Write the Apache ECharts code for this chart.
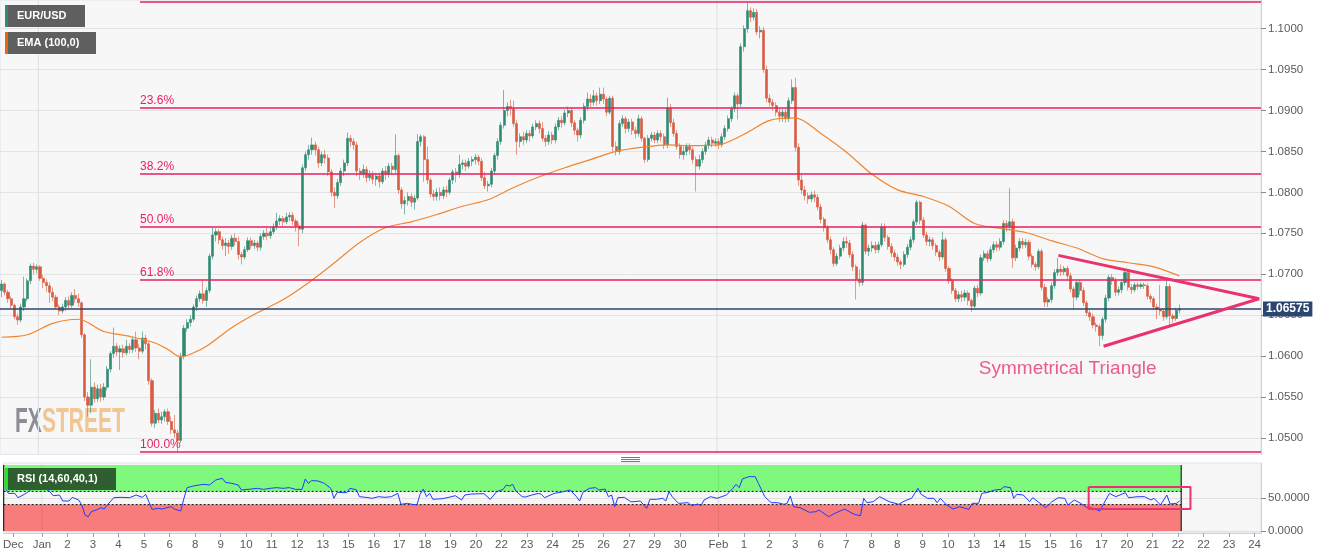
<!DOCTYPE html>
<html><head><meta charset="utf-8">
<script src="https://cdn.jsdelivr.net/npm/echarts@6/dist/echarts.min.js"></script>
<style>html,body{margin:0;padding:0;background:#fff}#c{width:1331px;height:558px}</style>
</head><body><div id="c"></div><script>
// ---- candles [open, close, low, high] ----
const candlesDecJan2 = [
[1.0680,1.0688,1.0672,1.0693],[1.0688,1.0678,1.0674,1.0690],[1.0678,1.0670,1.0665,1.0681],[1.0670,1.0662,1.0658,1.0673],
[1.0662,1.0648,1.0645,1.0664],[1.0648,1.0644,1.0638,1.0652],[1.0644,1.0660,1.0641,1.0664],[1.0660,1.0670,1.0655,1.0697],
[1.0670,1.0692,1.0667,1.0695],[1.0692,1.0710,1.0688,1.0713],[1.0710,1.0706,1.0700,1.0714],[1.0706,1.0709,1.0701,1.0712],
[1.0709,1.0695,1.0692,1.0711],[1.0695,1.0690,1.0683,1.0699],[1.0690,1.0686,1.0678,1.0694],[1.0686,1.0678,1.0665,1.0690],
[1.0678,1.0672,1.0667,1.0684],[1.0672,1.0660,1.0657,1.0675],[1.0660,1.0655,1.0650,1.0663],[1.0655,1.0660,1.0652,1.0664],
[1.0660,1.0668,1.0655,1.0672],[1.0668,1.0662,1.0657,1.0673],[1.0662,1.0674,1.0659,1.0678],[1.0674,1.0670,1.0665,1.0682],
[1.0670,1.0665,1.0660,1.0676],[1.0665,1.0626,1.0622,1.0667],[1.0626,1.0550,1.0545,1.0628],[1.0550,1.0540,1.0526,1.0556]
];
const candlesJan3to6 = [
[1.0540,1.0562,1.0530,1.0596],[1.0562,1.0548,1.0543,1.0568],[1.0548,1.0560,1.0544,1.0565],[1.0560,1.0550,1.0544,1.0566],
[1.0550,1.0562,1.0546,1.0567],[1.0562,1.0584,1.0558,1.0588],[1.0584,1.0603,1.0580,1.0606],[1.0603,1.0612,1.0598,1.0635],
[1.0612,1.0605,1.0600,1.0616],[1.0605,1.0609,1.0583,1.0613],[1.0609,1.0604,1.0598,1.0614],[1.0604,1.0612,1.0601,1.0620],
[1.0612,1.0608,1.0603,1.0616],[1.0608,1.0620,1.0604,1.0624],[1.0620,1.0610,1.0605,1.0630],[1.0610,1.0606,1.0596,1.0615],
[1.0606,1.0622,1.0603,1.0630],[1.0622,1.0615,1.0608,1.0626],[1.0615,1.0570,1.0565,1.0618],[1.0570,1.0518,1.0514,1.0573],
[1.0518,1.0530,1.0512,1.0534],[1.0530,1.0522,1.0518,1.0536],[1.0522,1.0526,1.0517,1.0532],[1.0526,1.0532,1.0520,1.0535],
[1.0532,1.0520,1.0516,1.0536],[1.0520,1.0510,1.0505,1.0526],[1.0510,1.0506,1.0500,1.0528],[1.0506,1.0497,1.0483,1.0510],
[1.0497,1.0600,1.0494,1.0604],[1.0600,1.0634,1.0596,1.0638]
];
const candlesJan6to12 = [
[1.0634,1.0641,1.0630,1.0645],[1.0641,1.0645,1.0636,1.0650],[1.0645,1.0660,1.0642,1.0663],[1.0660,1.0670,1.0655,1.0674],
[1.0670,1.0676,1.0666,1.0680],[1.0676,1.0668,1.0664,1.0693],[1.0668,1.0680,1.0660,1.0684],[1.0680,1.0722,1.0677,1.0725],
[1.0722,1.0748,1.0718,1.0758],[1.0748,1.0752,1.0740,1.0756],[1.0752,1.0742,1.0737,1.0755],[1.0742,1.0735,1.0730,1.0746],
[1.0735,1.0738,1.0722,1.0744],[1.0738,1.0734,1.0725,1.0742],[1.0734,1.0744,1.0730,1.0748],[1.0744,1.0740,1.0735,1.0750],
[1.0740,1.0724,1.0718,1.0746],[1.0724,1.0721,1.0712,1.0727],[1.0721,1.0730,1.0718,1.0734],[1.0730,1.0741,1.0727,1.0745],
[1.0741,1.0735,1.0731,1.0745],[1.0735,1.0738,1.0731,1.0742],[1.0738,1.0733,1.0728,1.0741],[1.0733,1.0746,1.0729,1.0750],
[1.0746,1.0750,1.0742,1.0754],[1.0750,1.0747,1.0742,1.0758],[1.0747,1.0752,1.0743,1.0757],[1.0752,1.0758,1.0749,1.0762],
[1.0758,1.0765,1.0754,1.0775],[1.0765,1.0768,1.0760,1.0772],[1.0768,1.0764,1.0759,1.0771],[1.0764,1.0770,1.0761,1.0775],
[1.0770,1.0772,1.0765,1.0776],[1.0772,1.0765,1.0760,1.0776],[1.0765,1.0759,1.0752,1.0768],[1.0759,1.0755,1.0734,1.0763],
[1.0755,1.0830,1.0750,1.0834]
];
const candlesJan12to18 = [
[1.0830,1.0846,1.0826,1.0850],[1.0846,1.0852,1.0840,1.0858],[1.0852,1.0858,1.0846,1.0867],[1.0858,1.0852,1.0845,1.0862],
[1.0852,1.0836,1.0830,1.0856],[1.0836,1.0846,1.0832,1.0850],[1.0846,1.0842,1.0835,1.0852],[1.0842,1.0825,1.0820,1.0846],
[1.0825,1.0800,1.0795,1.0828],[1.0800,1.0796,1.0781,1.0806],[1.0796,1.0812,1.0792,1.0816],[1.0812,1.0826,1.0808,1.0830],
[1.0826,1.0836,1.0820,1.0840],[1.0836,1.0866,1.0832,1.0873],[1.0866,1.0862,1.0856,1.0870],[1.0862,1.0858,1.0852,1.0866],
[1.0858,1.0826,1.0820,1.0862],[1.0826,1.0822,1.0815,1.0830],[1.0822,1.0828,1.0818,1.0834],[1.0828,1.0818,1.0812,1.0832],
[1.0818,1.0822,1.0814,1.0827],[1.0822,1.0816,1.0810,1.0826],[1.0816,1.0820,1.0808,1.0824],[1.0820,1.0813,1.0806,1.0824],
[1.0813,1.0826,1.0810,1.0830],[1.0826,1.0822,1.0815,1.0832],[1.0822,1.0832,1.0818,1.0836],[1.0832,1.0828,1.0822,1.0836],
[1.0828,1.0845,1.0824,1.0871],[1.0845,1.0803,1.0798,1.0848],[1.0803,1.0786,1.0780,1.0806],[1.0786,1.0790,1.0773,1.0795],
[1.0790,1.0795,1.0784,1.0800],[1.0795,1.0788,1.0782,1.0799],[1.0788,1.0793,1.0779,1.0797],[1.0793,1.0862,1.0790,1.0871]
];
const candlesJan18toFeb3 = [
[1.0862,1.0868,1.0856,1.0871],[1.0868,1.0840,1.0813,1.0870],[1.0840,1.0815,1.0810,1.0856],[1.0815,1.0798,1.0794,1.0818],
[1.0798,1.0795,1.0790,1.0803],[1.0795,1.0800,1.0790,1.0805],[1.0800,1.0796,1.0790,1.0806],[1.0796,1.0803,1.0792,1.0807],
[1.0803,1.0800,1.0794,1.0808],[1.0800,1.0815,1.0797,1.0818],[1.0815,1.0825,1.0810,1.0828],[1.0825,1.0822,1.0812,1.0830],
[1.0822,1.0834,1.0818,1.0846],[1.0834,1.0836,1.0828,1.0840],[1.0836,1.0832,1.0826,1.0840],[1.0832,1.0838,1.0829,1.0842],
[1.0838,1.0840,1.0832,1.0844],[1.0840,1.0843,1.0834,1.0847],[1.0843,1.0838,1.0833,1.0846],[1.0838,1.0818,1.0814,1.0842],
[1.0818,1.0808,1.0804,1.0825],[1.0808,1.0810,1.0801,1.0814],[1.0810,1.0826,1.0806,1.0830],[1.0826,1.0845,1.0822,1.0848],
[1.0845,1.0862,1.0840,1.0866],[1.0862,1.0882,1.0858,1.0886],[1.0882,1.0900,1.0878,1.0925],[1.0900,1.0905,1.0893,1.0910],
[1.0905,1.0902,1.0894,1.0913],[1.0902,1.0884,1.0880,1.0912],[1.0884,1.0862,1.0846,1.0888],[1.0862,1.0868,1.0855,1.0872],
[1.0868,1.0864,1.0858,1.0874],[1.0864,1.0872,1.0860,1.0876],[1.0872,1.0869,1.0862,1.0876],[1.0869,1.0880,1.0866,1.0884],
[1.0880,1.0884,1.0876,1.0888],[1.0884,1.0878,1.0872,1.0888],[1.0878,1.0866,1.0862,1.0886],[1.0866,1.0862,1.0856,1.0870],
[1.0862,1.0870,1.0858,1.0875],[1.0870,1.0864,1.0859,1.0874],[1.0864,1.0880,1.0860,1.0884],[1.0880,1.0888,1.0876,1.0892],
[1.0888,1.0885,1.0879,1.0893],[1.0885,1.0897,1.0882,1.0901],[1.0897,1.0900,1.0892,1.0905],[1.0900,1.0885,1.0880,1.0903],
[1.0885,1.0876,1.0870,1.0888],[1.0876,1.0870,1.0862,1.0879],[1.0870,1.0888,1.0866,1.0892],[1.0888,1.0905,1.0884,1.0909],
[1.0905,1.0914,1.0900,1.0922],[1.0914,1.0910,1.0904,1.0920],[1.0910,1.0918,1.0906,1.0925],[1.0918,1.0912,1.0906,1.0922],
[1.0912,1.0920,1.0908,1.0928],[1.0920,1.0914,1.0908,1.0928],[1.0914,1.0898,1.0893,1.0917],[1.0898,1.0915,1.0895,1.0918],
[1.0915,1.0856,1.0850,1.0918],[1.0856,1.0850,1.0845,1.0862],[1.0850,1.0884,1.0846,1.0888],[1.0884,1.0890,1.0880,1.0894],
[1.0890,1.0878,1.0872,1.0893],[1.0878,1.0886,1.0874,1.0890],[1.0886,1.0876,1.0870,1.0890],[1.0876,1.0872,1.0866,1.0880],
[1.0872,1.0890,1.0868,1.0895],[1.0890,1.0866,1.0862,1.0893],[1.0866,1.0840,1.0836,1.0868],[1.0840,1.0866,1.0837,1.0870],
[1.0866,1.0870,1.0862,1.0874],[1.0870,1.0864,1.0860,1.0874],[1.0864,1.0872,1.0860,1.0876],[1.0872,1.0868,1.0862,1.0876],
[1.0868,1.0858,1.0853,1.0872],[1.0858,1.0903,1.0854,1.0916],[1.0903,1.0885,1.0880,1.0908],[1.0885,1.0872,1.0868,1.0890],
[1.0872,1.0856,1.0852,1.0876],[1.0856,1.0846,1.0841,1.0860],[1.0846,1.0850,1.0840,1.0856],[1.0850,1.0856,1.0845,1.0860],
[1.0856,1.0852,1.0846,1.0860],[1.0852,1.0840,1.0835,1.0856],[1.0840,1.0832,1.0801,1.0844],[1.0832,1.0840,1.0828,1.0846],
[1.0840,1.0850,1.0836,1.0854],[1.0850,1.0858,1.0846,1.0862],[1.0858,1.0864,1.0853,1.0868],[1.0864,1.0860,1.0855,1.0868],
[1.0860,1.0862,1.0856,1.0866],[1.0862,1.0858,1.0853,1.0866],[1.0858,1.0868,1.0855,1.0872],[1.0868,1.0878,1.0864,1.0882],
[1.0878,1.0890,1.0874,1.0894],[1.0890,1.0902,1.0886,1.0905],[1.0902,1.0918,1.0898,1.0922],[1.0918,1.0908,1.0889,1.0921],
[1.0908,1.0978,1.0904,1.0982],[1.0978,1.1000,1.0972,1.1004],[1.1000,1.1022,1.0995,1.1032],[1.1022,1.1014,1.1008,1.1026],
[1.1014,1.1020,1.1010,1.1025],[1.1020,1.0996,1.0992,1.1024],[1.0996,1.0998,1.0988,1.1003],[1.0998,1.0950,1.0946,1.1002],
[1.0950,1.0915,1.0910,1.0955],[1.0915,1.0910,1.0905,1.0920],[1.0910,1.0906,1.0900,1.0914],[1.0906,1.0898,1.0893,1.0910],
[1.0898,1.0893,1.0886,1.0902],[1.0893,1.0898,1.0886,1.0902],[1.0898,1.0890,1.0885,1.0902],[1.0890,1.0912,1.0886,1.0916],
[1.0912,1.0928,1.0908,1.0938],[1.0928,1.0855,1.0850,1.0940],[1.0855,1.0815,1.0808,1.0860],[1.0815,1.0803,1.0798,1.0822],
[1.0803,1.0796,1.0790,1.0808],[1.0796,1.0792,1.0786,1.0800],[1.0792,1.0797,1.0788,1.0801]
];
const candlesFeb3to22 = [
[1.0797,1.0794,1.0788,1.0802],[1.0794,1.0782,1.0778,1.0798],[1.0782,1.0767,1.0762,1.0786],[1.0767,1.0757,1.0752,1.0770],
[1.0757,1.0742,1.0738,1.0760],[1.0742,1.0730,1.0724,1.0746],[1.0730,1.0713,1.0709,1.0733],[1.0713,1.0722,1.0710,1.0726],
[1.0722,1.0732,1.0718,1.0736],[1.0732,1.0740,1.0728,1.0745],[1.0740,1.0738,1.0732,1.0746],[1.0738,1.0724,1.0720,1.0742],
[1.0724,1.0709,1.0704,1.0728],[1.0709,1.0694,1.0669,1.0712],[1.0694,1.0690,1.0685,1.0706],[1.0690,1.0760,1.0686,1.0764],
[1.0760,1.0728,1.0724,1.0762],[1.0728,1.0732,1.0722,1.0736],[1.0732,1.0735,1.0727,1.0740],[1.0735,1.0730,1.0725,1.0740],
[1.0730,1.0736,1.0726,1.0740],[1.0736,1.0758,1.0733,1.0762],[1.0758,1.0745,1.0740,1.0762],[1.0745,1.0734,1.0730,1.0748],
[1.0734,1.0726,1.0721,1.0738],[1.0726,1.0721,1.0716,1.0730],[1.0721,1.0715,1.0710,1.0725],[1.0715,1.0712,1.0706,1.0718],
[1.0712,1.0724,1.0709,1.0728],[1.0724,1.0733,1.0720,1.0737],[1.0733,1.0742,1.0729,1.0746],[1.0742,1.0764,1.0738,1.0767],
[1.0764,1.0788,1.0760,1.0791],[1.0788,1.0766,1.0761,1.0790],[1.0766,1.0748,1.0744,1.0770],[1.0748,1.0740,1.0735,1.0752],
[1.0740,1.0742,1.0734,1.0746],[1.0742,1.0735,1.0730,1.0745],[1.0735,1.0727,1.0722,1.0738],[1.0727,1.0721,1.0716,1.0730],
[1.0721,1.0742,1.0718,1.0752],[1.0742,1.0707,1.0703,1.0745],[1.0707,1.0692,1.0688,1.0710],[1.0692,1.0680,1.0676,1.0695],
[1.0680,1.0670,1.0666,1.0683],[1.0670,1.0675,1.0666,1.0679],[1.0675,1.0672,1.0666,1.0680],[1.0672,1.0677,1.0667,1.0681],
[1.0677,1.0668,1.0662,1.0680],[1.0668,1.0661,1.0654,1.0670],[1.0661,1.0683,1.0658,1.0686],[1.0683,1.0677,1.0672,1.0687],
[1.0677,1.0720,1.0674,1.0724],[1.0720,1.0725,1.0716,1.0729],[1.0725,1.0719,1.0714,1.0729],[1.0719,1.0730,1.0716,1.0734],
[1.0730,1.0736,1.0726,1.0740],[1.0736,1.0733,1.0728,1.0740],[1.0733,1.0740,1.0729,1.0744],[1.0740,1.0762,1.0736,1.0766],
[1.0762,1.0758,1.0752,1.0766],[1.0758,1.0764,1.0754,1.0805],[1.0764,1.0720,1.0708,1.0768],[1.0720,1.0732,1.0716,1.0736],
[1.0732,1.0740,1.0728,1.0744],[1.0740,1.0736,1.0731,1.0744],[1.0736,1.0739,1.0732,1.0743],[1.0739,1.0722,1.0717,1.0742],
[1.0722,1.0712,1.0708,1.0725],[1.0712,1.0709,1.0704,1.0715],[1.0709,1.0728,1.0706,1.0731],[1.0728,1.0684,1.0680,1.0731],
[1.0684,1.0666,1.0660,1.0688],[1.0666,1.0669,1.0660,1.0672],[1.0669,1.0686,1.0665,1.0690],[1.0686,1.0702,1.0682,1.0706],
[1.0702,1.0706,1.0698,1.0720],[1.0706,1.0703,1.0698,1.0712],[1.0703,1.0707,1.0699,1.0710],[1.0707,1.0698,1.0694,1.0710],
[1.0698,1.0682,1.0678,1.0702],[1.0682,1.0672,1.0656,1.0685],[1.0672,1.0690,1.0668,1.0693],[1.0690,1.0680,1.0675,1.0694],
[1.0680,1.0665,1.0661,1.0684],[1.0665,1.0653,1.0649,1.0668],[1.0653,1.0648,1.0643,1.0656],[1.0648,1.0638,1.0634,1.0652],
[1.0638,1.0636,1.0630,1.0641],[1.0636,1.0625,1.0612,1.0639],[1.0625,1.0645,1.0620,1.0648],[1.0645,1.0671,1.0641,1.0675],
[1.0671,1.0696,1.0667,1.0699],[1.0696,1.0692,1.0687,1.0700],[1.0692,1.0678,1.0673,1.0696],[1.0678,1.0681,1.0674,1.0685],
[1.0681,1.0690,1.0677,1.0694],[1.0690,1.0702,1.0686,1.0705],[1.0702,1.0684,1.0680,1.0705],[1.0684,1.0681,1.0676,1.0688],
[1.0681,1.0687,1.0678,1.0690],[1.0687,1.0685,1.0681,1.0690],[1.0685,1.0687,1.0682,1.0690],[1.0687,1.0686,1.0682,1.0690],
[1.0686,1.0673,1.0669,1.0689],[1.0673,1.0670,1.0665,1.0676],[1.0670,1.0660,1.0656,1.0673],[1.0660,1.0657,1.0645,1.0664],
[1.0657,1.0655,1.0650,1.0687],[1.0655,1.0648,1.0643,1.0658],[1.0648,1.0685,1.0645,1.0696],[1.0685,1.0649,1.0638,1.0688],
[1.0649,1.0646,1.0641,1.0652],[1.0646,1.0656,1.0643,1.0659],[1.0656,1.06575,1.0652,1.0663]
];
// ---- EMA(100) read at candle indices ----
const emaIdx = [0,8,16,24,32,40,48,52,56,60,64,72,80,88,96,104,112,120,128,136,144,152,160,168,176,184,192,200,208,216,224,232,240,248,256,264,272,280,288,296,304,312,320,328,336,344,352,360,368];
const emaVals = [1.0623,1.0626,1.0640,1.0645,1.0630,1.0624,1.0616,1.0608,1.0599,1.0604,1.0612,1.0635,1.0653,1.0669,1.0690,1.0714,1.0739,1.0757,1.0764,1.0773,1.0783,1.0791,1.0806,1.0819,1.0830,1.0840,1.0850,1.0855,1.0858,1.0857,1.0858,1.0871,1.0888,1.0891,1.0872,1.0849,1.0822,1.0803,1.0795,1.0783,1.0762,1.0756,1.0751,1.0741,1.0732,1.0719,1.0714,1.0709,1.0698];
// ---- RSI(14) read at candle indices [index, value] ----
const rsiPoints = [[0,64.6],[1,57],[3,57],[4,50.5],[6,55.5],[7,58.6],[9,67],[10,64.6],[12,65.7],[14,59.6],[15,53.5],[17,54.5],[18,45.5],[20,45.5],[21,51],[23,47],[24,39.4],[25,24.2],[26,21.7],[27,29.3],[29,32.8],[30,35.4],[31,33.3],[32,39.4],[34,50.5],[36,51],[39,50.5],[41,54.5],[43,51],[44,55.6],[45,44.4],[46,32.8],[48,34.3],[49,33.3],[52,36.9],[53,33.3],[55,30.3],[56,49.5],[57,65.7],[59,68.2],[62,70.7],[64,69.7],[66,77.3],[68,79.8],[69,73.7],[71,72.2],[73,69.7],[74,62.1],[77,63.6],[79,64.6],[81,63.1],[83,64.6],[85,65.7],[87,64.6],[89,65.7],[91,63.1],[93,63.1],[94,78.8],[95,72.2],[96,76.3],[98,75.8],[100,72.2],[102,64.6],[103,49.5],[104,58.6],[107,58],[108,64.6],[110,62.6],[111,52],[113,51],[115,49.5],[117,52],[119,51],[121,52],[123,57],[124,40.4],[126,41.9],[127,40.9],[129,39.4],[130,55.6],[131,63.6],[132,52],[133,57],[134,48],[137,49],[139,51],[141,53.5],[143,47],[144,54.5],[146,56],[150,56.6],[152,48],[154,59.6],[156,63.1],[157,69.7],[158,68.2],[159,70.7],[160,60.6],[162,52],[163,51.5],[165,54.5],[167,57],[168,55.6],[169,50.5],[172,57],[175,59.6],[177,62.1],[179,52],[180,45.5],[181,58.6],[183,64.6],[185,65.7],[186,62.1],[188,63.6],[189,52],[190,54.5],[191,36.9],[192,50.5],[194,51],[196,44.4],[197,44.4],[199,45.5],[201,34.3],[202,48],[204,48],[206,49.5],[207,45.5],[208,59.6],[209,52],[211,41.9],[214,42.9],[215,38.4],[217,40.9],[218,38.4],[219,47],[221,52],[223,49.5],[226,54.5],[228,64.6],[229,70.7],[230,65.7],[231,78.8],[233,82.3],[235,82.3],[236,72.2],[238,52],[240,42.9],[242,42.9],[244,40.4],[245,41.9],[246,53],[247,36.9],[249,35.4],[252,28.3],[254,29.3],[255,31.8],[258,21.7],[260,26.8],[263,33.3],[266,25.3],[268,23.2],[269,49.5],[270,42.9],[272,44.4],[274,52],[277,44.4],[280,40.4],[282,46],[284,49.5],[285,57],[286,64.6],[287,55.6],[289,49.5],[291,49.5],[292,42.9],[293,49.5],[295,39.4],[297,33.3],[299,36.9],[302,32.8],[303,41.9],[305,41.9],[306,57],[308,58.6],[310,62.1],[312,63.1],[313,67.2],[315,65.7],[316,49.5],[317,55.6],[319,54.5],[321,44.4],[322,50.5],[324,42.9],[326,35.4],[328,44.4],[330,50.5],[332,49.5],[333,39.4],[335,47],[337,41.9],[339,35.4],[341,34.3],[343,30.3],[344,39.4],[346,57],[348,52],[351,58],[352,50.5],[355,52],[357,52],[359,47],[360,49.5],[362,39.4],[364,54.5],[365,40.9],[367,41.9],[368,45.5]];
// ---- levels and labels ----
const lastPrice = 1.06575;
const fibLevels = [1.1033, 1.0903, 1.0823, 1.0758, 1.0693, 1.0483];
const fibNames = ['0.0%', '23.6%', '38.2%', '50.0%', '61.8%', '100.0%'];
const fibStartIdx = 43.75;
const priceTicks = [1.05,1.055,1.06,1.065,1.07,1.075,1.08,1.085,1.09,1.095,1.10];
const rsiTicks = [0, 50];
const dayLabels = ['Dec','Jan','2','3','4','5','6','8','9','10','11','12','13','15','16','17','18','19','20','22','23','24','25','26','27','29','30','Feb','1','2','3','6','7','8','8','9','10','13','14','15','15','16','17','20','21','22','22','23','24'];
const dayLabelIdx = [3,12,20,28,36,44,52,60,68,76,84,92,100,108,116,124,132,140,148,156,164,172,180,188,196,204,212,224,232,240,248,256,264,272,280,288,296,304,312,320,328,336,344,352,360,368,376,384,392];
const monthStartIdx = [12, 224];
const triangle = [[330.7, 1.0723], [393.4, 1.0670], [344.8, 1.0612]];
const triangleText = [333.6, 1.0585];
const rsiBox = [[340, 66.7], [371.9, 66.7], [371.9, 33.3], [340, 33.3], [340, 66.7]];
const SLOTS = 394;

const ohlc = [].concat(candlesDecJan2, candlesJan3to6, candlesJan6to12, candlesJan12to18, candlesJan18toFeb3, candlesFeb3to22);
const nData = ohlc.length;
const categories = Array.from({length: SLOTS}, (_, i) => String(i));
const FONT = '"Liberation Sans", Arial, sans-serif';
const PINK = '#e91e63', TRI = '#e8336e';

const chart = echarts.init(document.getElementById('c'), null, {renderer: 'canvas'});
const vline = (idx, yIdx, lo, hi, color, z) => ({type:'line', xAxisIndex: yIdx === 0 ? 1 : 2, yAxisIndex: yIdx, z: z, silent: true, symbol: 'none',
  data: [[idx, lo], [idx, hi]], lineStyle: {color: color, width: 1.2}, animation: false});

const series = [
  vline(monthStartIdx[0], 0, 1.048, 1.1035, '#e1e2e8', 1),
  vline(monthStartIdx[1], 0, 1.048, 1.1035, '#e1e2e8', 1),
  {type: 'candlestick', xAxisIndex: 0, yAxisIndex: 0, z: 2, barWidth: 2.6, data: ohlc,
   itemStyle: {color: '#2f8a72', color0: '#d85b42', borderColor: '#2f8a72', borderColor0: '#d85b42', borderWidth: 0.6}},
  {type: 'line', xAxisIndex: 1, yAxisIndex: 0, z: 3, symbol: 'none', smooth: 0.3,
   data: emaIdx.map((k, j) => [k + 0.5, emaVals[j]]), lineStyle: {color: '#ef8630', width: 1.2}},
  {type: 'line', xAxisIndex: 1, yAxisIndex: 0, z: 5, symbol: 'none', silent: true,
   data: [[0, lastPrice], [SLOTS, lastPrice]], lineStyle: {color: '#2b4670', width: 1.5},
   endLabel: {show: true, formatter: () => lastPrice.toFixed(5), backgroundColor: '#2b4670', color: '#fff',
     fontWeight: 'bold', fontSize: 12, fontFamily: FONT, padding: [2, 3, 1, 3], distance: 2},
   markLine: {silent: true, symbol: ['none', 'none'], animation: false,
     lineStyle: {color: PINK, width: 1.5, type: 'solid'},
     label: {show: true, position: 'insideStartTop', formatter: '{b}', color: PINK, fontSize: 12, fontFamily: FONT, distance: [0, 1]},
     data: fibLevels.map((lv, j) => [{name: fibNames[j], coord: [fibStartIdx, lv]}, {coord: [SLOTS, lv]}])}},
  {type: 'line', xAxisIndex: 1, yAxisIndex: 0, z: 6, symbol: 'none', silent: true,
   data: triangle, lineStyle: {color: TRI, width: 3}},
  {type: 'scatter', xAxisIndex: 1, yAxisIndex: 0, z: 6, symbolSize: 0, silent: true,
   data: [{value: triangleText, label: {show: true, position: 'inside', formatter: 'Symmetrical Triangle',
     color: TRI, fontSize: 19, fontFamily: FONT}}]},
  // RSI panel
  {type: 'line', xAxisIndex: 2, yAxisIndex: 1, z: 1, symbol: 'none', silent: true,
   data: [[0, 50], [nData, 50]], lineStyle: {opacity: 0},
   markArea: {silent: true, data: [
     [{coord: [0, 60], itemStyle: {color: '#7ef97e'}}, {coord: [nData, 100]}],
     [{coord: [0, 0], itemStyle: {color: '#f87c7c'}}, {coord: [nData, 40]}]]}},
  vline(monthStartIdx[0], 1, 0, 100, 'rgba(0,0,0,0.07)', 2),
  vline(monthStartIdx[1], 1, 0, 100, 'rgba(0,0,0,0.07)', 2),
  vline(0, 1, 0, 100, '#222', 3),
  vline(nData, 1, 0, 100, '#222', 3),
  {type: 'line', xAxisIndex: 2, yAxisIndex: 1, z: 3, symbol: 'none', silent: true,
   data: [[0, 60], [nData, 60]], lineStyle: {color: '#111', width: 1, type: [2, 2]}},
  {type: 'line', xAxisIndex: 2, yAxisIndex: 1, z: 3, symbol: 'none', silent: true,
   data: [[0, 40], [nData, 40]], lineStyle: {color: '#111', width: 1, type: [2, 2]}},
  {type: 'line', xAxisIndex: 2, yAxisIndex: 1, z: 4, symbol: 'none',
   data: rsiPoints.map(p => [p[0] + 0.5, p[1]]), lineStyle: {color: '#1f3cff', width: 1}},
  {type: 'line', xAxisIndex: 2, yAxisIndex: 1, z: 5, symbol: 'none', silent: true,
   data: rsiBox, lineStyle: {color: TRI, width: 2}}
];

const option = {
  animation: false,
  textStyle: {fontFamily: FONT},
  grid: [
    {left: 0, right: 70, top: 0, height: 454.3, show: true, backgroundColor: '#f7f7f7', borderColor: '#dfe4ee', borderWidth: 1},
    {left: 0, right: 70, top: 463, height: 70, show: true, backgroundColor: '#f6f6f6', borderColor: '#dfe4ee', borderWidth: 1}
  ],
  xAxis: [
    {type: 'category', gridIndex: 0, data: categories, show: false, boundaryGap: true, axisLine: {onZero: false}},
    {type: 'value', gridIndex: 0, min: 0, max: SLOTS, show: false, axisLine: {onZero: false}},
    {type: 'value', gridIndex: 1, min: 0, max: SLOTS, position: 'bottom',
     axisLine: {show: true, onZero: false, lineStyle: {color: '#c9d1e3'}},
     axisTick: {show: true, length: 4, customValues: dayLabelIdx, lineStyle: {color: '#9aa3b5'}},
     axisLabel: {customValues: dayLabelIdx, formatter: v => dayLabels[dayLabelIdx.indexOf(v)] || '', color: '#5a5a5a', fontSize: 11.5, margin: 6},
     splitLine: {show: false}}
  ],
  yAxis: [
    {type: 'value', gridIndex: 0, position: 'right', min: 1.048, max: 1.1035,
     axisLine: {show: true, onZero: false, lineStyle: {color: '#c9d1e3'}},
     axisTick: {show: true, length: 5, customValues: priceTicks, lineStyle: {color: '#888'}},
     axisLabel: {customValues: priceTicks, formatter: v => v.toFixed(4), color: '#5a5a5a', fontSize: 11.5, margin: 7},
     splitLine: {show: true, lineStyle: {color: '#e3e3e3', width: 1}}},
    {type: 'value', gridIndex: 1, position: 'right', min: -3, max: 103,
     axisLine: {show: true, onZero: false, lineStyle: {color: '#c9d1e3'}},
     axisTick: {show: true, length: 5, customValues: rsiTicks, lineStyle: {color: '#888'}},
     axisLabel: {customValues: rsiTicks, formatter: v => v.toFixed(4), color: '#5a5a5a', fontSize: 11.5, margin: 7},
     splitLine: {show: true, lineStyle: {color: '#e0e0e0', width: 1}}}
  ],
  series: series,
  graphic: [
    {type: 'rect', z: 10, shape: {x: 5, y: 5, width: 80, height: 22}, style: {fill: '#5f5f5f'}},
    {type: 'rect', z: 11, shape: {x: 5, y: 5, width: 3, height: 22}, style: {fill: '#2e8b74'}},
    {type: 'text', z: 11, x: 17, y: 16, style: {text: 'EUR/USD', fill: '#fff', font: 'bold 11px ' + FONT, textVerticalAlign: 'middle', verticalAlign: 'middle'}},
    {type: 'rect', z: 10, shape: {x: 5, y: 32, width: 91, height: 22}, style: {fill: '#5f5f5f'}},
    {type: 'rect', z: 11, shape: {x: 5, y: 32, width: 3, height: 22}, style: {fill: '#e8650f'}},
    {type: 'text', z: 11, x: 17, y: 43, style: {text: 'EMA (100,0)', fill: '#fff', font: 'bold 11px ' + FONT, textVerticalAlign: 'middle', verticalAlign: 'middle'}},
    {type: 'rect', z: 10, shape: {x: 5, y: 468, width: 111, height: 22}, style: {fill: '#2f5e31'}},
    {type: 'rect', z: 11, shape: {x: 5, y: 468, width: 3, height: 22}, style: {fill: '#20e620'}},
    {type: 'text', z: 11, x: 17, y: 479, style: {text: 'RSI (14,60,40,1)', fill: '#fff', font: 'bold 11px ' + FONT, textVerticalAlign: 'middle', verticalAlign: 'middle'}},
    {type: 'text', z: 1, x: 15, y: 405, scaleX: 0.6, style: {text: 'FX', fill: 'rgba(128,128,138,0.9)', font: 'bold 35px ' + FONT}},
    {type: 'text', z: 1, x: 42, y: 405, scaleX: 0.6, style: {text: 'STREET', fill: 'rgba(240,192,135,0.9)', font: 'bold 35px ' + FONT}},
    {type: 'line', z: 10, shape: {x1: 621, y1: 457.5, x2: 640, y2: 457.5}, style: {stroke: '#777', lineWidth: 1}},
    {type: 'line', z: 10, shape: {x1: 621, y1: 459.5, x2: 640, y2: 459.5}, style: {stroke: '#777', lineWidth: 1}},
    {type: 'line', z: 10, shape: {x1: 621, y1: 461.5, x2: 640, y2: 461.5}, style: {stroke: '#777', lineWidth: 1}}
  ]
};
chart.setOption(option);
</script></body></html>
